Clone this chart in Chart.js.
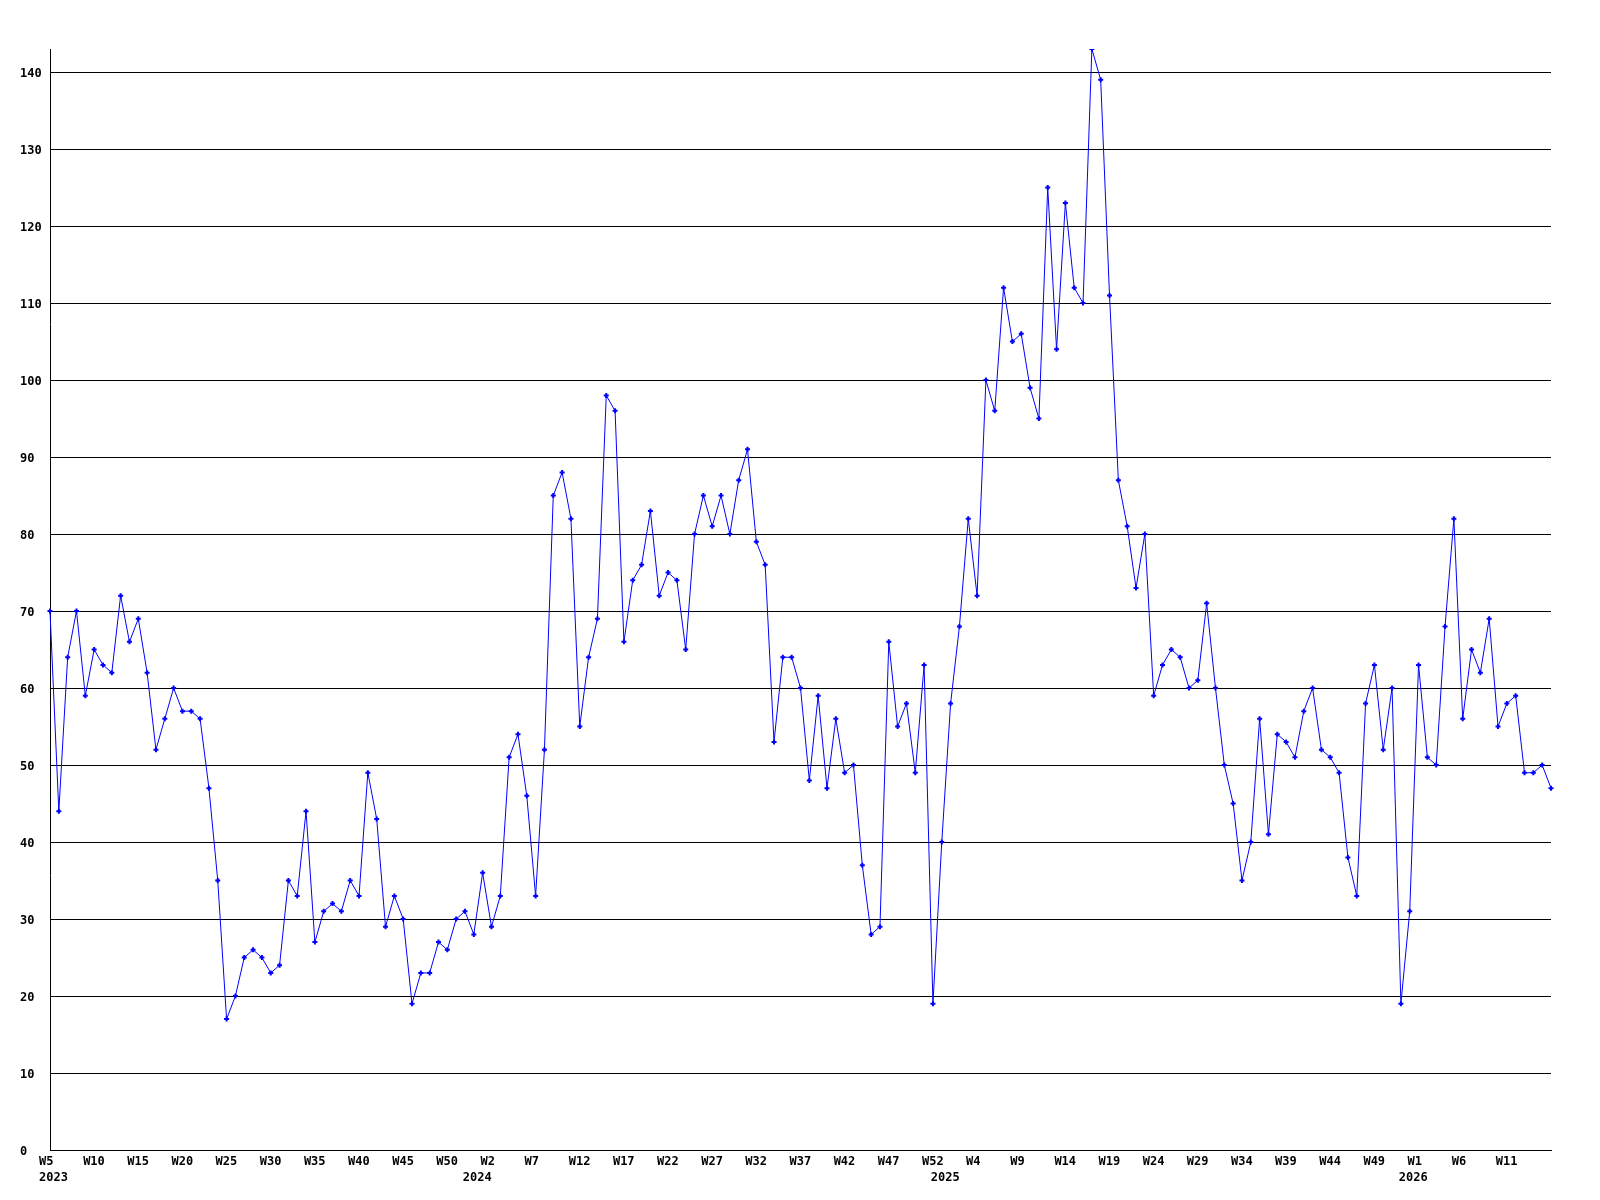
<!DOCTYPE html>
<html>
<head>
<meta charset="utf-8">
<script src="https://cdn.jsdelivr.net/npm/chart.js@4/dist/chart.umd.min.js"></script>
<style>
  html,body{margin:0;padding:0;background:#fff;}
  #wrap{width:1600px;height:1200px;}
</style>
</head>
<body>
<div id="wrap"><canvas id="c" width="1600" height="1200"></canvas></div>
<script>
// weekly categories, "year week"
const categories = [
  // 2023
  '2023 W5','2023 W6','2023 W7','2023 W8','2023 W9','2023 W10','2023 W11','2023 W12','2023 W13','2023 W14',
  '2023 W15','2023 W16','2023 W17','2023 W18','2023 W19','2023 W20','2023 W21','2023 W22','2023 W23','2023 W24',
  '2023 W25','2023 W26','2023 W27','2023 W28','2023 W29','2023 W30','2023 W31','2023 W32','2023 W33','2023 W34',
  '2023 W35','2023 W36','2023 W37','2023 W38','2023 W39','2023 W40','2023 W41','2023 W42','2023 W43','2023 W44',
  '2023 W45','2023 W46','2023 W47','2023 W48','2023 W49','2023 W50','2023 W51','2023 W52',
  // 2024
  '2024 W0','2024 W1','2024 W2','2024 W3','2024 W4','2024 W5','2024 W6','2024 W7','2024 W8','2024 W9',
  '2024 W10','2024 W11','2024 W12','2024 W13','2024 W14','2024 W15','2024 W16','2024 W17','2024 W18','2024 W19',
  '2024 W20','2024 W21','2024 W22','2024 W23','2024 W24','2024 W25','2024 W26','2024 W27','2024 W28','2024 W29',
  '2024 W30','2024 W31','2024 W32','2024 W33','2024 W34','2024 W35','2024 W36','2024 W37','2024 W38','2024 W39',
  '2024 W40','2024 W41','2024 W42','2024 W43','2024 W44','2024 W45','2024 W46','2024 W47','2024 W48','2024 W49',
  '2024 W50','2024 W51','2024 W52',
  // 2025
  '2025 W0','2025 W1','2025 W2','2025 W3','2025 W4','2025 W5','2025 W6','2025 W7','2025 W8','2025 W9',
  '2025 W10','2025 W11','2025 W12','2025 W13','2025 W14','2025 W15','2025 W16','2025 W17','2025 W18','2025 W19',
  '2025 W20','2025 W21','2025 W22','2025 W23','2025 W24','2025 W25','2025 W26','2025 W27','2025 W28','2025 W29',
  '2025 W30','2025 W31','2025 W32','2025 W33','2025 W34','2025 W35','2025 W36','2025 W37','2025 W38','2025 W39',
  '2025 W40','2025 W41','2025 W42','2025 W43','2025 W44','2025 W45','2025 W46','2025 W47','2025 W48','2025 W49',
  '2025 W50','2025 W51','2025 W52',
  // 2026
  '2026 W0','2026 W1','2026 W2','2026 W3','2026 W4','2026 W5','2026 W6','2026 W7','2026 W8','2026 W9',
  '2026 W10','2026 W11','2026 W12','2026 W13','2026 W14','2026 W15','2026 W16'
];

const values = [
  70,44,64,70,59,65,63,62,72,66,69,62,52,56,60,57,57,56,47,35,17,20,
  25,26,25,23,24,35,33,44,27,31,32,31,35,33,49,43,29,33,30,19,23,23,
  27,26,30,31,28,36,29,33,51,54,46,33,52,85,88,82,55,64,69,
  98,96,66,74,76,83,72,75,74,65,80,85,81,85,80,87,91,79,76,53,64,64,60,
  48,59,47,56,49,50,37,28,29,66,55,58,49,63,19,40,58,68,82,72,
  100,96,112,105,106,99,95,125,104,123,112,110,143,139,111,
  87,81,73,80,59,63,65,64,60,61,71,60,50,45,35,40,56,41,54,53,51,57,
  60,52,51,49,38,33,58,63,52,60,19,31,63,51,50,68,82,56,65,62,69,55,58,59,49,49,50,47
];

const yTicks = [0,10,20,30,40,50,60,70,80,90,100,110,120,130,140];
const yMax = 143;

const FONT = {family:"'DejaVu Sans Mono', monospace", size:12, weight:'bold', lineHeight:1.3};

// x label: week every 5th point, year under first point and under each W0
function xLabel(v, i){
  const [yr, wk] = categories[i].split(' ');
  const top = (i % 5 === 0 && i < categories.length - 5) ? wk : '';
  const bottom = (i === 0 || wk === 'W0') ? yr : '';
  if(!top && !bottom) return '';
  return bottom ? [top, bottom] : top;
}

new Chart(document.getElementById('c'), {
  type:'line',
  data:{labels:categories, datasets:[{
    data:values,
    borderColor:'#0000ff', borderWidth:1, tension:0,
    pointStyle:'cross', pointRadius:2.5, pointBorderWidth:2,
    pointBorderColor:'#0000ff', pointBackgroundColor:'#0000ff'
  }]},
  options:{
    responsive:false, animation:false, devicePixelRatio:1,
    layout:{padding:{left:20, right:49, top:49, bottom:0}},
    plugins:{legend:{display:false}, tooltip:{enabled:false}},
    scales:{
      x:{
        offset:false,
        grid:{display:false, drawTicks:false},
        border:{display:true, color:'#000', width:1},
        ticks:{autoSkip:false, maxRotation:0, minRotation:0, padding:4, align:'start', labelOffset:-11,
               color:'#000', font:FONT, callback:xLabel},
        afterFit:s=>{ s.height = 50; }
      },
      y:{
        min:0, max:yMax,
        grid:{color:'#000', lineWidth:1, drawTicks:false},
        border:{display:true, color:'#000', width:1},
        ticks:{color:'#000', font:FONT, crossAlign:'far', padding:0, labelOffset:2},
        afterBuildTicks:s=>{ s.ticks = yTicks.map(v=>({value:v})); },
        afterFit:s=>{ s.width = 30; }
      }
    }
  }
});
</script>
</body>
</html>
